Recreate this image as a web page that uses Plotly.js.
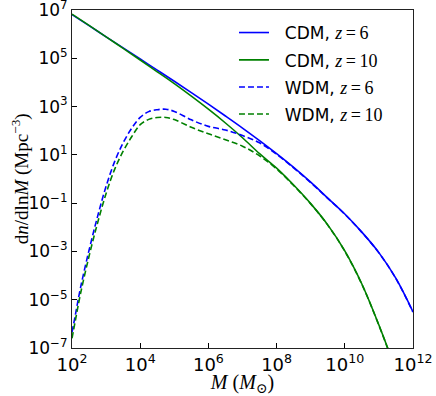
<!DOCTYPE html>
<html>
<head>
<meta charset="utf-8">
<script src="https://cdn.plot.ly/plotly-3.0.1.min.js"></script>
<style>
  html, body { margin: 0; padding: 0; background: #fff; }
  #chart { width: 436px; height: 396px; }
</style>
</head>
<body>
<div id="chart"></div>
<script>
// values, as log10 (M in Msun, dn/dlnM in Mpc^-3)
var logM_cdm = [2, 2.5, 3, 3.5, 4, 4.5, 5, 5.5, 6, 6.5, 7, 7.5, 8, 8.5, 9, 9.5, 10, 10.5, 11, 11.5, 12];
var cdm_z6  = [6.81, 6.35, 5.89, 5.43, 4.97, 4.51, 4.05, 3.58, 3.10, 2.61, 2.11, 1.59, 1.05, 0.48, -0.13, -0.79, -1.45, -2.20, -3.05, -4.12, -5.50];
var cdm_z10 = [6.83, 6.36, 5.89, 5.41, 4.93, 4.44, 3.95, 3.43, 2.89, 2.32, 1.71, 1.05, 0.45, -0.25, -1.02, -1.90, -2.98, -4.35, -6.05, -7.95, -10.1];

var logM_wdm = [2, 2.1, 2.25, 2.5, 2.75, 3, 3.25, 3.5, 3.75, 4, 4.25, 4.5, 4.75, 5, 5.5, 6, 6.5, 7, 7.5, 8, 8.5, 9, 9.5, 10, 10.5, 11, 11.5, 12];
var wdm_z6  = [-6.35, -5.62, -4.50, -2.95, -1.55, -0.30, 0.72, 1.50, 2.10, 2.55, 2.79, 2.87, 2.89, 2.80, 2.45, 2.18, 2.03, 1.80, 1.50, 1.02, 0.46, -0.15, -0.80, -1.46, -2.21, -3.06, -4.13, -5.51];
var wdm_z10 = [-6.60, -5.85, -4.75, -3.20, -1.82, -0.60, 0.40, 1.15, 1.75, 2.25, 2.47, 2.55, 2.55, 2.46, 2.14, 1.87, 1.63, 1.36, 0.96, 0.42, -0.27, -1.03, -1.91, -2.99, -4.36, -6.06, -7.96, -10.1];

var xTicks = [1e2, 1e4, 1e6, 1e8, 1e10, 1e12];
var xTickText = ['10<sup>2</sup>', '10<sup>4</sup>', '10<sup>6</sup>', '10<sup>8</sup>', '10<sup>10</sup>', '10<sup>12</sup>'];
var yTicks = [1e-7, 1e-5, 1e-3, 1e-1, 1e1, 1e3, 1e5, 1e7];
var yTickText = ['10<sup>\u22127</sup>', '10<sup>\u22125</sup>', '10<sup>\u22123</sup>', '10<sup>\u22121</sup>', '10<sup>1</sup>', '10<sup>3</sup>', '10<sup>5</sup>', '10<sup>7</sup>'];

function pow10(arr) { return arr.map(v => Math.pow(10, v)); }

var serif = 'Liberation Serif, DejaVu Serif, serif';
var sans = 'DejaVu Sans, sans-serif';

function label(model, z) {
  return '\u00a0\u00a0' + model + ', <span style="font-family:Liberation Serif;font-size:18px"><i>z</i>\u2009=\u2009' + z + '</span>';
}

var data = [
  {x: pow10(logM_cdm), y: pow10(cdm_z6), mode: 'lines', name: label('CDM', 6),
   line: {color: '#0000ff', width: 1.6, shape: 'spline', smoothing: 1}, legend: 'legend'},
  {x: pow10(logM_cdm), y: pow10(cdm_z10), mode: 'lines', name: label('CDM', 10),
   line: {color: '#008000', width: 1.6, shape: 'spline', smoothing: 1}, legend: 'legend2'},
  {x: pow10(logM_wdm), y: pow10(wdm_z6), mode: 'lines', name: label('WDM', 6),
   line: {color: '#0000ff', width: 1.6, dash: '6px,3px', shape: 'spline', smoothing: 1}, legend: 'legend3'},
  {x: pow10(logM_wdm), y: pow10(wdm_z10), mode: 'lines', name: label('WDM', 10),
   line: {color: '#008000', width: 1.6, dash: '6px,3px', shape: 'spline', smoothing: 1}, legend: 'legend4'}
];

function leg(y) {
  return {x: 0.475, y: y, xanchor: 'left', yanchor: 'middle', bgcolor: 'rgba(0,0,0,0)',
          font: {family: sans, size: 17, color: '#000'}};
}

var layout = {
  width: 436, height: 396,
  margin: {l: 72, r: 23, t: 10, b: 48},
  paper_bgcolor: '#fff', plot_bgcolor: '#fff',
  showlegend: true,
  legend: leg(0.932), legend2: leg(0.851), legend3: leg(0.771), legend4: leg(0.691),
  xaxis: {
    type: 'log', range: [1.99999, 12.00001],
    tickvals: xTicks, ticktext: xTickText, ticklabeloverflow: 'allow',
    ticks: 'inside', ticklen: 5, tickcolor: '#000', tickwidth: 1,
    showgrid: false, zeroline: false,
    showline: true, linecolor: '#222', linewidth: 1, mirror: true,
    tickfont: {family: sans, size: 18, color: '#000'},
    title: {text: '<i>M</i> (<i>M</i><sub>\u2299</sub>)', font: {family: serif, size: 20, color: '#000'}, standoff: 7}
  },
  yaxis: {
    type: 'log', range: [-7.00001, 7.00001],
    tickvals: yTicks, ticktext: yTickText, ticklabeloverflow: 'allow',
    ticks: 'inside', ticklen: 5, tickcolor: '#000', tickwidth: 1,
    showgrid: false, zeroline: false,
    showline: true, linecolor: '#222', linewidth: 1, mirror: true,
    tickfont: {family: sans, size: 17, color: '#000'}
  },
  annotations: [{
    text: 'd<i>n</i>/dln<i>M</i> (Mpc<sup>\u22123</sup>)', textangle: -90,
    xref: 'paper', yref: 'paper', x: -0.152, y: 0.5, xanchor: 'center', yanchor: 'middle',
    showarrow: false, font: {family: serif, size: 19, color: '#000'}
  }]
};

Plotly.newPlot('chart', data, layout, {staticPlot: true, displayModeBar: false});
</script>
</body>
</html>
